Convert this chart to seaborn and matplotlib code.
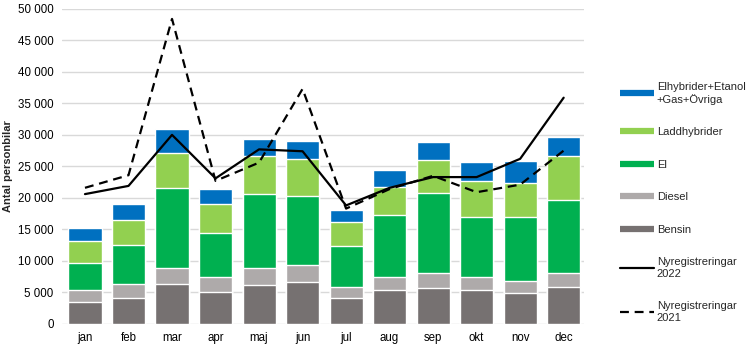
import numpy as np
import pandas as pd
import seaborn as sns
import matplotlib
matplotlib.use('Agg')
import matplotlib.pyplot as plt
from matplotlib.lines import Line2D
from matplotlib.ticker import FuncFormatter

# =========================
#  DATA
# =========================

months = ['jan', 'feb', 'mar', 'apr', 'maj', 'jun', 'jul', 'aug', 'sep', 'okt', 'nov', 'dec']

bensin = [3500, 4100, 6350, 5000, 6200, 6700, 4100, 5400, 5700, 5400, 4900, 5900]
diesel = [1850, 2250, 2550, 2400, 2700, 2700, 1700, 2000, 2400, 2100, 1900, 2200]
el = [4350, 6250, 12700, 7000, 11700, 10900, 6600, 9900, 12600, 9500, 10200, 11500]
laddhybrider = [3500, 3900, 5600, 4600, 6000, 5900, 3800, 4400, 5300, 5700, 5300, 7100]
elhybrider_ovriga = [2000, 2500, 3800, 2400, 2800, 2900, 1800, 2800, 2900, 3000, 3600, 3000]

nyreg_2022 = [20600, 21900, 30000, 23100, 27700, 27400, 18800, 21600, 23300, 23300, 26200, 35900]
nyreg_2021 = [21600, 23600, 48400, 22700, 25600, 37300, 18300, 21400, 23500, 20900, 22100, 27500]

series = [
    ('Bensin', bensin, '#767171'),
    ('Diesel', diesel, '#AEAAAA'),
    ('El', el, '#00B050'),
    ('Laddhybrider', laddhybrider, '#92D050'),
    ('Elhybrider+Etanol\n+Gas+Övriga', elhybrider_ovriga, '#0070C0'),
]

# =========================
#  PLOT
# =========================

sns.set_theme(style='white')
plt.rcParams['font.family'] = ['Liberation Sans', 'DejaVu Sans']

fig = plt.figure(figsize=(7.46, 3.54), dpi=100)
ax = fig.add_axes([0.083, 0.085, 0.7, 0.89])

# stacked bars: draw cumulative totals, tallest first
cum = np.cumsum([s[1] for s in series], axis=0)
for i in range(len(series) - 1, -1, -1):
    df = pd.DataFrame({'month': months, 'value': cum[i]})
    sns.barplot(data=df, x='month', y='value', color=series[i][2],
                saturation=1, width=0.76, ax=ax, zorder=2)

x = np.arange(len(months))
sns.lineplot(x=x, y=nyreg_2022, color='black', linewidth=1.6, ax=ax, zorder=3)
sns.lineplot(x=x, y=nyreg_2021, color='black', linewidth=1.6, ax=ax, zorder=3,
             dashes=False)
ax.lines[-1].set_dashes((4, 2.6))

ax.set_xlim(-0.53, 11.47)
ax.set_ylim(0, 50000)
ax.set_yticks(np.arange(0, 50001, 5000))
ax.yaxis.set_major_formatter(FuncFormatter(lambda v, p: f'{int(v):,}'.replace(',', ' ')))
ax.grid(axis='y', color='#D9D9D9', linewidth=1, zorder=0)
ax.set_axisbelow(True)
for s in ax.spines.values():
    s.set_visible(False)
ax.tick_params(axis='both', length=0, labelsize=8.3, colors='black', pad=6)
ax.set_xlabel('')
ax.set_ylabel('Antal personbilar', fontsize=8, fontweight='bold', labelpad=3.5)

handles = [Line2D([], [], color=c, linewidth=4.5, solid_capstyle='butt')
           for _, _, c in series[::-1]]
labels = [n for n, _, _ in series[::-1]]
handles.append(Line2D([], [], color='black', linewidth=1.6))
labels.append('Nyregistreringar\n2022')
handles.append(Line2D([], [], color='black', linewidth=1.6, dashes=(4, 2.6)))
labels.append('Nyregistreringar\n2021')

fig.legend(handles, labels, loc='upper left', bbox_to_anchor=(0.818, 0.797),
           frameon=False, fontsize=8, handlelength=3.0, handletextpad=0.3,
           labelspacing=2.03)

plt.savefig('out.png', dpi=100)
plt.close()
